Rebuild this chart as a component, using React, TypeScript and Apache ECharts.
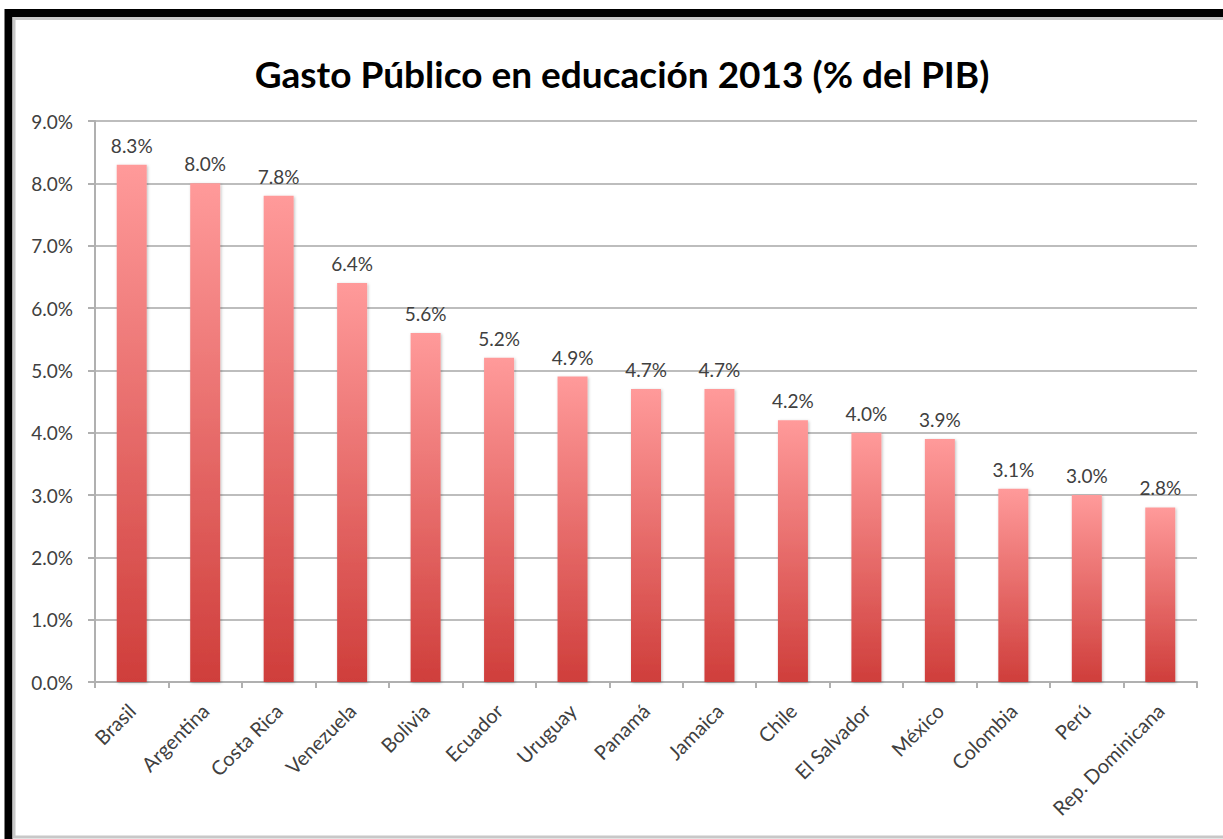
import React, { useEffect, useRef } from "react";
import * as echarts from "echarts";

const titleText = "Gasto Público en educación 2013 (% del PIB)";
const countries = [
  "Brasil", "Argentina", "Costa Rica", "Venezuela", "Bolivia", "Ecuador", "Uruguay",
  "Panamá", "Jamaica", "Chile", "El Salvador", "México", "Colombia", "Perú", "Rep. Dominicana",
];
const gasto = [8.3, 8.0, 7.8, 6.4, 5.6, 5.2, 4.9, 4.7, 4.7, 4.2, 4.0, 3.9, 3.1, 3.0, 2.8];
const yMin = 0;
const yMax = 9;
const yStep = 1;

const FONT = "Lato, 'Open Sans', sans-serif";

export default function App() {
  const ref = useRef<HTMLDivElement>(null);
  useEffect(() => {
    if (!ref.current) return;
    const chart = echarts.init(ref.current, undefined, { renderer: "svg" });
    chart.setOption({
      animation: false,
      backgroundColor: "#ffffff",
      title: {
        text: titleText,
        left: 617,
        textAlign: "center",
        top: 50,
        textStyle: { fontFamily: FONT, fontWeight: "bold", fontSize: 37, color: "#000000" },
      },
      graphic: [
        {
          type: "rect",
          shape: { x: 8.5, y: 13, width: 1400, height: 1000 },
          style: { fill: "none", stroke: "#000000", lineWidth: 8 },
          silent: true,
        },
        {
          type: "rect",
          shape: { x: 14, y: 18.5, width: 1400, height: 818.5 },
          style: { fill: "none", stroke: "#c8c8c8", lineWidth: 3 },
          silent: true,
        },
      ],
      grid: { left: 95, right: 26, top: 121, bottom: 157 },
      xAxis: {
        type: "category",
        data: countries,
        axisLine: { lineStyle: { color: "#b0b0b0", width: 2 } },
        axisTick: { show: true, length: 6, lineStyle: { color: "#b0b0b0", width: 2 } },
        axisLabel: {
          rotate: 45,
          interval: 0,
          margin: 25,
          fontFamily: FONT,
          fontSize: 20,
          color: "#404040",
        },
      },
      yAxis: {
        type: "value",
        min: yMin,
        max: yMax,
        interval: yStep,
        axisLine: { show: true, lineStyle: { color: "#b0b0b0", width: 2 } },
        axisTick: { show: true, length: 7, lineStyle: { color: "#b0b0b0", width: 2 } },
        splitLine: { lineStyle: { color: "#bdbdbd", width: 2 } },
        axisLabel: {
          formatter: (v: number) => v.toFixed(1) + "%",
          fontFamily: FONT,
          fontSize: 19,
          color: "#404040",
          margin: 22,
        },
      },
      series: [
        {
          type: "bar",
          data: gasto,
          barWidth: 30,
          itemStyle: {
            color: new echarts.graphic.LinearGradient(0, 0, 0, 1, [
              { offset: 0, color: "#ff9a9a" },
              { offset: 1, color: "#cf3e3b" },
            ]),
            shadowColor: "rgba(0,0,0,0.25)",
            shadowBlur: 3,
            shadowOffsetX: 1,
            shadowOffsetY: 1,
          },
          label: {
            show: true,
            position: "top",
            distance: 10,
            formatter: (p: any) => Number(p.value).toFixed(1) + "%",
            fontFamily: FONT,
            fontSize: 19,
            color: "#404040",
          },
        },
      ],
    });
    return () => chart.dispose();
  }, []);
  return (
    <div style={{ position: "absolute", left: 0, top: 0, width: 1223, height: 839, background: "#fff" }}>
      <div ref={ref} style={{ width: 1223, height: 839 }} />
    </div>
  );
}
